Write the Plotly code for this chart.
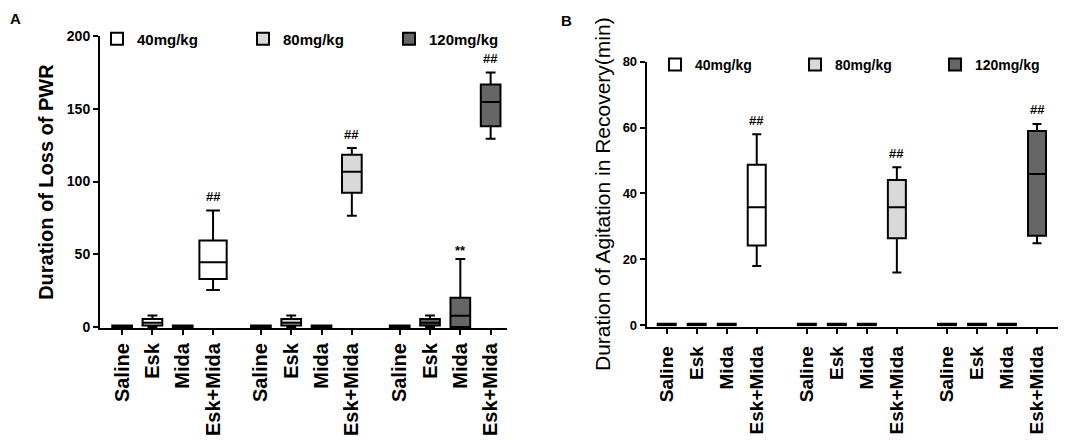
import plotly.graph_objects as go

## Group / category labels
doses = ['40mg/kg', '80mg/kg', '120mg/kg']
groups = ['Saline', 'Esk', 'Mida', 'Esk+Mida']
fills = ['#ffffff', '#d9d9d9', '#666666']

## Panel A: Duration of Loss of PWR  (low whisker, q1, median, q3, high whisker)
pwr_low = [0, 0, 0, 25.5,   0, 0, 0, 76.5,   0, 0, 0, 129.4]
pwr_q1 = [0, 1, 0, 33,      0, 1, 0, 92.2,   0, 1, 0, 138]
pwr_med = [0, 3, 0, 44.6,   0, 3, 0, 106.7,  0, 3, 7.8, 154.7]
pwr_q3 = [1, 5.5, 1, 59.5,  1, 5.5, 1, 118.4, 1, 5.5, 20.2, 166.7]
pwr_high = [1, 8, 1, 80,    1, 8, 1, 123,    1, 8, 46.7, 175]
pwr_marks = ['', '', '', '##', '', '', '', '##', '', '', '**', '##']

## Panel B: Duration of Agitation in Recovery
agi_low = [0, 0, 0, 18,     0, 0, 0, 16,     0, 0, 0, 24.9]
agi_q1 = [0, 0, 0, 24.2,    0, 0, 0, 26.4,   0, 0, 0, 27.2]
agi_med = [0, 0, 0, 35.8,   0, 0, 0, 35.8,   0, 0, 0, 45.9]
agi_q3 = [0.5, 0.5, 0.5, 48.7, 0.5, 0.5, 0.5, 44.1, 0.5, 0.5, 0.5, 59]
agi_high = [0.5, 0.5, 0.5, 58, 0.5, 0.5, 0.5, 48, 0.5, 0.5, 0.5, 61.1]
agi_marks = ['', '', '', '##', '', '', '', '##', '', '', '', '##']

FONT = 'Arial, Liberation Sans, sans-serif'

## page has an 8px body margin, so the figure is drawn 8px smaller and
## layout positions are given in screen pixels and converted here
W, H, OFF = 1076, 432, 8


def px2x(x):
    return (x - OFF) / W


def px2y(y):
    return 1 - (y - OFF) / H


def positions(gap):
    return [g * gap + i for g in range(len(doses)) for i in range(len(groups))]


fig = go.Figure()


def add_panel(xref, yref, pos, low, q1, med, q3, high, marks, legend, widths):
    for k in range(len(pos)):
        g = k // len(groups)
        fig.add_trace(go.Box(
            x=[pos[k]], lowerfence=[low[k]], q1=[q1[k]], median=[med[k]],
            q3=[q3[k]], upperfence=[high[k]],
            xaxis=xref, yaxis=yref,
            width=widths[k], whiskerwidth=0.5,
            fillcolor=fills[g], line=dict(color='black', width=2),
            name='<b>' + doses[g] + '</b>', legend=legend, legendgroup=legend + doses[g],
            showlegend=(k % len(groups) == 0), hoverinfo='skip'))
        if marks[k]:
            fig.add_annotation(x=pos[k], y=high[k], xref=xref, yref=yref,
                               text='<b>' + marks[k] + '</b>', showarrow=False,
                               yshift=14 if marks[k] == '##' else 9,
                               font=dict(family=FONT, size=13, color='black'))


pos_a = positions(4.58)
pos_b = positions(4.67)
w_a = [0.65] * 12
w_a[3] = 0.9
add_panel('x', 'y', pos_a, pwr_low, pwr_q1, pwr_med, pwr_q3, pwr_high, pwr_marks, 'legend', w_a)
add_panel('x2', 'y2', pos_b, agi_low, agi_q1, agi_med, agi_q3, agi_high, agi_marks, 'legend2', [0.6] * 12)

bold_groups = ['<b>' + g + '</b>' for g in groups] * 3

axis_common = dict(showline=True, linecolor='black', linewidth=2, ticks='outside',
                   tickcolor='black', tickwidth=2, ticklen=5, showgrid=False,
                   zeroline=False, color='black', automargin=False)

fig.update_layout(
    width=W, height=H,
    margin=dict(l=0, r=0, t=0, b=0, autoexpand=False),
    paper_bgcolor='white', plot_bgcolor='white',
    font=dict(family=FONT, color='black'),
    xaxis=dict(domain=[px2x(100), px2x(507)], range=[-0.73, 12.7], anchor='y',
               tickmode='array', tickvals=pos_a, ticktext=bold_groups, tickangle=-90,
               tickfont=dict(size=20), **axis_common),
    yaxis=dict(domain=[px2y(328.2), px2y(36)], range=[-0.8, 200], anchor='x',
               tickvals=[0, 50, 100, 150, 200],
               ticktext=['<b>0</b>', '<b>50</b>', '<b>100</b>', '<b>150</b>', '<b>200</b>'],
               tickfont=dict(size=14), title=dict(text='<b>Duration of Loss of PWR</b>',
                                                   font=dict(size=20), standoff=8),
               **axis_common),
    xaxis2=dict(domain=[px2x(646.7), px2x(1058)], range=[-0.667, 13.04], anchor='y2',
                tickmode='array', tickvals=pos_b, ticktext=bold_groups, tickangle=-90,
                tickfont=dict(size=19), ticklabelstandoff=5, **axis_common),
    yaxis2=dict(domain=[px2y(326.6), px2y(61.7)], range=[-0.4, 80], anchor='x2',
                tickvals=[0, 20, 40, 60, 80],
                ticktext=['<b>0</b>', '<b>20</b>', '<b>40</b>', '<b>60</b>', '<b>80</b>'],
                tickfont=dict(size=13), title=dict(text='Duration of Agitation in Recovery(min)',
                                                    font=dict(size=21), standoff=6),
                **axis_common),
    legend=dict(orientation='h', x=px2x(97), y=px2y(39), xanchor='left', yanchor='middle',
                entrywidth=101, entrywidthmode='pixels', font=dict(size=15),
                bgcolor='rgba(0,0,0,0)', itemclick=False),
    legend2=dict(orientation='h', x=px2x(655), y=px2y(65), xanchor='left', yanchor='middle',
                 entrywidth=95, entrywidthmode='pixels', font=dict(size=14),
                 bgcolor='rgba(0,0,0,0)', itemclick=False),
)

## Panel letters
fig.add_annotation(x=px2x(8), y=px2y(8), xref='paper', yref='paper', text='<b>A</b>',
                   showarrow=False, xanchor='left', yanchor='top', font=dict(size=15))
fig.add_annotation(x=px2x(559), y=px2y(10), xref='paper', yref='paper', text='<b>B</b>',
                   showarrow=False, xanchor='left', yanchor='top', font=dict(size=15))

fig.write_html('out.html')
